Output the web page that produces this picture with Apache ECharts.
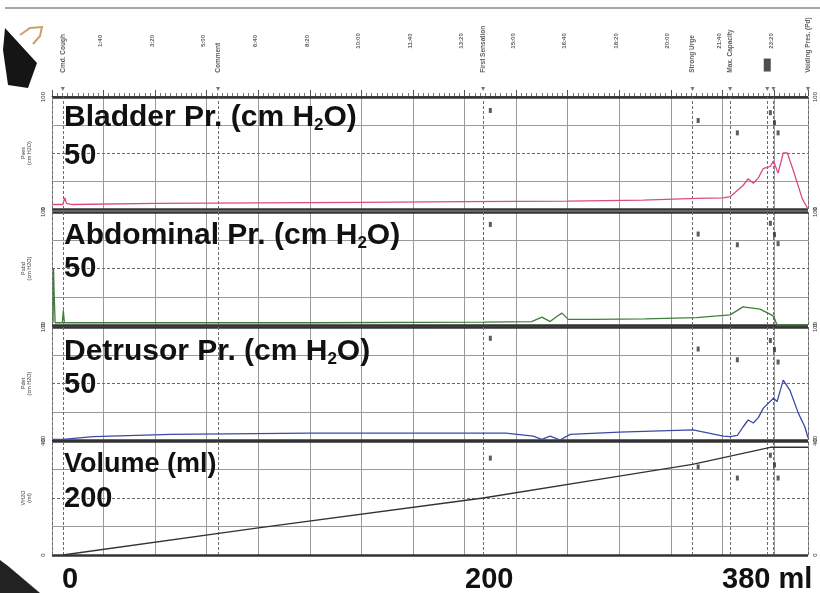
<!DOCTYPE html>
<html><head><meta charset="utf-8">
<script src="https://cdn.jsdelivr.net/npm/echarts@6/dist/echarts.min.js"></script>
<style>html,body{margin:0;padding:0;background:#fff}#c{width:820px;height:593px}</style>
</head><body><div id="c"></div>
<script>
// ---- data (time in seconds) ----
const timeTicks = [100,200,300,400,500,600,700,800,900,1000,1100,1200,1300,1400];
const eventTimes = [21, 322, 836, 1242, 1315, 1387, 1399, 1466];
const eventNames = ['Cmd. Cough', 'Comment', 'First Sensation', 'Strong Urge', 'Max. Capacity', '', '', 'Voiding Pres. (Pd)'];

const bladderT = [2, 21, 25, 28, 40, 200, 400, 600, 800, 1000, 1146, 1250, 1302, 1315, 1330, 1340, 1350, 1360, 1370, 1379, 1393, 1399, 1408, 1418, 1426, 1437, 1455, 1466];
const bladderV = [4, 4, 10, 5, 4, 5, 5.5, 6, 6.5, 7, 8, 9.5, 10, 11, 17, 21, 27, 23, 28, 36, 38, 43, 32, 50, 50, 35, 9, 0];

const abdT = [2, 3, 4, 6, 20, 22, 24, 200, 500, 836, 930, 950, 966, 980, 989, 1001, 1050, 1150, 1250, 1290, 1315, 1340, 1373, 1395, 1400, 1406, 1466];
const abdV = [2, 50, 30, 2, 2, 13, 2, 2, 2, 2.5, 3, 7, 3, 8, 10.5, 5, 5, 5.5, 6.5, 8, 9, 16, 14, 9, 7, 0, 0];

const detT = [2, 21, 80, 230, 500, 880, 933, 950, 966, 985, 1005, 1100, 1243, 1302, 1315, 1329, 1340, 1350, 1360, 1370, 1379, 1399, 1406, 1418, 1431, 1447, 1460, 1466];
const detV = [0.5, 0.5, 3, 5, 6, 6, 3.5, 0.6, 3.5, 0, 5, 7, 9, 3.5, 3, 4, 11.5, 17.7, 15, 20, 28, 37, 34, 53, 44, 24, 11.5, 2];

const volT = [21, 400, 836, 1100, 1242, 1393, 1466];
const volV = [0, 95, 200, 277, 318, 378, 378];

const markT = [850, 1253, 1329, 1393, 1401, 1408];
const bladderMarks = [88, 79, 68, 86, 77, 68];
const abdMarks = [89, 80.5, 71, 90, 80, 72];
const detMarks = [90, 80.5, 71, 88, 80, 69];
const volMarks = [340, 309, 270, 350, 316, 270];

const bottomVolLabels = ['0', '200', '380 ml'];

// ---- helpers ----
const zip = (a, b) => a.map((x, i) => [x, b[i]]);
const fmtTime = t => Math.floor(t / 60) + ':' + String(t % 60).padStart(2, '0');
const FONT = 'Liberation Sans, Arial, sans-serif';
const XMAX = 1466;

const panels = [
  {top: 97, height: 112, max: 100, interval: 25, name: 'Pves\n(cm H2O)', t: bladderT, v: bladderV, color: '#dc4a86', marks: bladderMarks},
  {top: 212, height: 113, max: 100, interval: 25, name: 'Pabd\n(cm H2O)', t: abdT, v: abdV, color: '#3f7f3a', marks: abdMarks},
  {top: 327, height: 113, max: 100, interval: 25, name: 'Pdet\n(cm H2O)', t: detT, v: detV, color: '#3b4ba6', marks: detMarks},
  {top: 441, height: 114, max: 400, interval: 100, name: 'VH2O\n(ml)', t: volT, v: volV, color: '#333333', marks: volMarks}
];

const grids = [], xAxes = [], yAxes = [], series = [];
panels.forEach((p, i) => {
  grids.push({left: 52, right: 12, top: p.top, height: p.height});
  xAxes.push({type: 'value', gridIndex: i, min: 0, max: XMAX, interval: 100,
    axisLine: {show: false}, axisTick: {show: false}, axisLabel: {show: false},
    splitLine: {show: true, lineStyle: {color: '#9a9a9a', width: 1}}});
  yAxes.push({type: 'value', gridIndex: i, min: 0, max: p.max, interval: p.interval,
    name: p.name, nameLocation: 'middle', nameGap: 17, nameRotate: 90,
    nameTextStyle: {fontSize: 5.5, color: '#444', fontFamily: FONT, lineHeight: 6},
    axisLine: {show: false}, axisTick: {show: false},
    axisLabel: {show: true, fontSize: 6, color: '#333', rotate: 90, margin: 6, fontFamily: FONT,
      formatter: v => (v === 0 || v === p.max) ? String(v) : ''},
    splitLine: {show: true, lineStyle: {color: ['transparent', '#9a9a9a', 'transparent', '#9a9a9a', 'transparent'], width: 1}}});
});
// header grid
grids.push({left: 52, right: 12, top: 10, height: 86});
xAxes.push({type: 'value', gridIndex: 4, min: 0, max: XMAX, interval: 100,
  axisLine: {show: true, lineStyle: {color: '#555', width: 1}},
  axisTick: {show: true, inside: true, length: 6, lineStyle: {color: '#555'}},
  minorTick: {show: true, splitNumber: 10, length: 3, lineStyle: {color: '#777'}},
  axisLabel: {show: false}, splitLine: {show: false}});
yAxes.push({type: 'value', gridIndex: 4, min: 0, max: 100, show: false});
// right axes
panels.forEach((p, i) => {
  yAxes.push({type: 'value', gridIndex: i, min: 0, max: p.max, interval: p.interval, position: 'right',
    axisLine: {show: false}, axisTick: {show: false}, splitLine: {show: false},
    axisLabel: {show: true, fontSize: 6, color: '#333', rotate: 90, margin: 4, fontFamily: FONT,
      formatter: v => (v === 0 || v === p.max) ? String(v) : ''}});
});

panels.forEach((p, i) => {
  const frame = {color: '#333', width: 2.5, type: 'solid'};
  const dash = {color: '#6a6a6a', width: 1, type: [3, 2]};
  const ml = [
    {yAxis: 0, lineStyle: frame},
    {yAxis: p.max, lineStyle: frame},
    {yAxis: p.max / 2, lineStyle: dash},
    {xAxis: 0, lineStyle: dash}
  ].concat(eventTimes.map(t => ({xAxis: t, lineStyle: dash})));
  series.push({type: 'line', xAxisIndex: i, yAxisIndex: i, data: zip(p.t, p.v),
    showSymbol: false, symbol: 'none', lineStyle: {color: p.color, width: 1.3}, z: 5,
    markLine: {silent: true, symbol: ['none', 'none'], label: {show: false}, animation: false, data: ml}});
  series.push({type: 'scatter', xAxisIndex: i, yAxisIndex: i, data: zip(markT, p.marks),
    symbol: 'rect', symbolSize: [3, 5], itemStyle: {color: '#333'}, z: 6});
});

// header: time labels and event labels
series.push({type: 'scatter', xAxisIndex: 4, yAxisIndex: 4, data: timeTicks.map(t => [t, 64]),
  symbolSize: 0, label: {show: true, position: 'inside', rotate: 90, align: 'center', verticalAlign: 'bottom',
    fontSize: 6, fontWeight: 'bold', color: '#333', fontFamily: FONT, formatter: d => fmtTime(d.value[0])}});
series.push({type: 'scatter', xAxisIndex: 4, yAxisIndex: 4, data: eventTimes.map((t, i) => ({value: [t, 27], name: eventNames[i]})),
  symbolSize: 0, label: {show: true, position: 'inside', rotate: 90, align: 'left', verticalAlign: 'middle',
    fontSize: 6.5, fontWeight: 'bold', color: '#333', fontFamily: FONT, formatter: d => d.name}});
series.push({type: 'scatter', xAxisIndex: 4, yAxisIndex: 4, data: eventTimes.map(t => [t, 8]),
  symbol: 'triangle', symbolRotate: 180, symbolSize: 4, itemStyle: {color: '#555'}});
series.push({type: 'scatter', xAxisIndex: 4, yAxisIndex: 4, data: [[eventTimes[5], 36]],
  symbol: 'rect', symbolSize: [7, 13], itemStyle: {color: '#222'}});

// ---- text graphics ----
const big = {fontSize: 30, fontWeight: 'bold', fontFamily: FONT, fill: '#111', lineHeight: 30};
const sub = {fontSize: 17, fontWeight: 'bold', fontFamily: FONT, fill: '#111', lineHeight: 30, padding: [16, 0, 0, 0]};
function titleText(text, left, top) {
  return {type: 'text', left: left, top: top, z: 100,
    style: {text: text, rich: {a: big, s: sub}, fill: '#111', font: 'bold 30px ' + FONT}};
}
function plainText(text, left, top, size) {
  return {type: 'text', left: left, top: top, z: 100,
    style: {text: text, fill: '#111', font: 'bold ' + (size || 29) + 'px ' + FONT}};
}
const graphics = [
  {type: 'line', shape: {x1: 5, y1: 8, x2: 820, y2: 8}, style: {stroke: '#888', lineWidth: 1.5}},
  {type: 'polygon', shape: {points: [[5, 28], [37, 63], [28, 88], [8, 85], [3, 50]]}, style: {fill: '#151515'}},
  {type: 'polyline', shape: {points: [[20, 35], [30, 28], [42, 27], [40, 36], [33, 44]]}, style: {stroke: '#c9a16a', lineWidth: 2, fill: null}},
  {type: 'polygon', shape: {points: [[0, 560], [8, 566], [40, 593], [0, 593]]}, style: {fill: '#222'}},
  titleText('{a|Bladder Pr. (cm H}{s|2}{a|O)}', 64, 101),
  plainText('50', 64, 141),
  titleText('{a|Abdominal Pr. (cm H}{s|2}{a|O)}', 64, 219),
  plainText('50', 64, 254),
  titleText('{a|Detrusor Pr. (cm H}{s|2}{a|O)}', 64, 335),
  plainText('50', 64, 370),
  plainText('Volume (ml)', 64, 451, 27),
  plainText('200', 64, 484),
  plainText(bottomVolLabels[0], 62, 565),
  plainText(bottomVolLabels[1], 465, 565),
  plainText(bottomVolLabels[2], 722, 565)
];

const chart = echarts.init(document.getElementById('c'));
chart.setOption({
  animation: false,
  backgroundColor: '#ffffff',
  grid: grids, xAxis: xAxes, yAxis: yAxes, series: series,
  graphic: graphics
});
</script></body></html>
